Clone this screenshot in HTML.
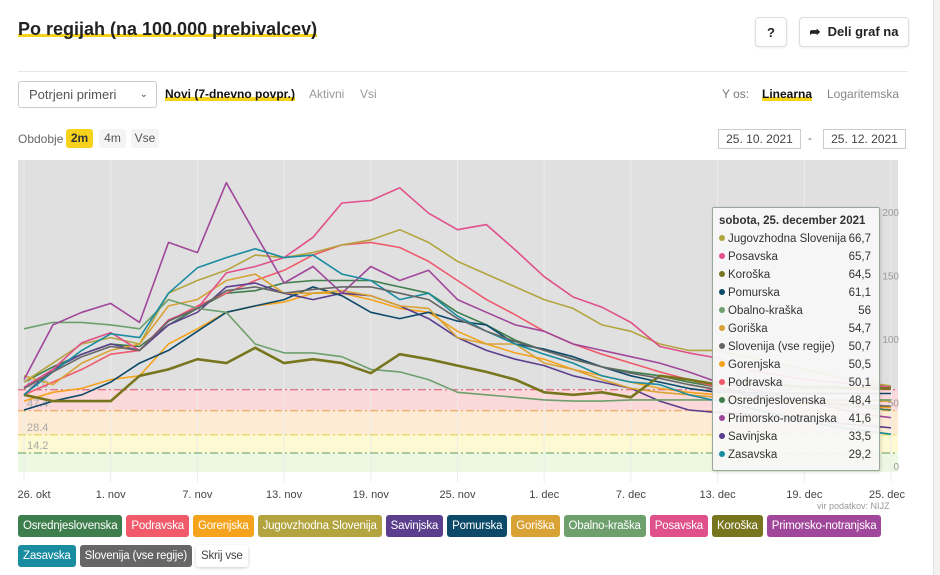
<!DOCTYPE html>
<html><head><meta charset="utf-8">
<style>
body{margin:0;width:940px;height:575px;background:#fff;font-family:"Liberation Sans",sans-serif;position:relative;overflow:hidden;color:#333}
.abs{position:absolute}
.title{left:18px;top:19px;font-size:18px;font-weight:bold;color:#222;background:linear-gradient(transparent 72%,#f7d21b 72%,#f7d21b 86%,transparent 86%)}
.btn{border:1px solid #ddd;border-radius:4px;background:#fff;font-size:13px;font-weight:bold;color:#222;display:flex;align-items:center;justify-content:center;box-shadow:0 1px 2px rgba(0,0,0,.08)}
.tab{font-size:12px;color:#999}
.lg{display:flex;gap:4px}
.lb{height:22px;line-height:22px;padding:0 5px;border-radius:3px;color:#fff;font-size:11.5px;white-space:nowrap;letter-spacing:-0.2px}
</style></head><body>
<div class="abs title">Po regijah (na 100.000 prebivalcev)</div>
<div class="abs btn" style="left:755px;top:17px;width:30px;height:28px">?</div>
<div class="abs btn" style="left:799px;top:17px;width:108px;height:28px">➦&nbsp;&nbsp;Deli graf na</div>
<div class="abs" style="left:18px;top:71px;width:890px;height:1px;background:#e6e6e6"></div>
<div class="abs" style="left:18px;top:81px;height:25px;border:1px solid #ccc;border-radius:3px;font-size:13px;color:#555;line-height:25px;padding-left:10px;width:127px">Potrjeni primeri<span style="position:absolute;right:8px;font-size:10px">⌄</span></div>
<div class="abs tab" style="left:165px;top:87px;color:#111;font-weight:bold;background:linear-gradient(transparent 70%,#f7d21b 70%)">Novi (7-dnevno povpr.)</div>
<div class="abs tab" style="left:309px;top:87px">Aktivni</div>
<div class="abs tab" style="left:360px;top:87px">Vsi</div>
<div class="abs tab" style="left:722px;top:87px;color:#777">Y os:</div>
<div class="abs tab" style="left:762px;top:87px;color:#111;font-weight:bold;background:linear-gradient(transparent 70%,#f7d21b 70%)">Linearna</div>
<div class="abs tab" style="left:827px;top:87px;color:#888">Logaritemska</div>
<div class="abs" style="left:18px;top:132px;font-size:12px;color:#666">Obdobje</div>
<div class="abs" style="left:66px;top:129px;width:27px;height:19px;background:#f7d21b;border-radius:3px;font-size:12px;font-weight:bold;text-align:center;line-height:19px">2m</div>
<div class="abs" style="left:99px;top:129px;width:27px;height:19px;background:#f4f4f4;border-radius:3px;font-size:12px;text-align:center;line-height:19px;color:#555">4m</div>
<div class="abs" style="left:131px;top:129px;width:28px;height:19px;background:#f4f4f4;border-radius:3px;font-size:12px;text-align:center;line-height:19px;color:#555">Vse</div>
<div class="abs" style="left:718px;top:129px;width:81px;height:18px;border:1px solid #ccc;font-size:12px;text-align:center;line-height:18px;color:#444">25. 10. 2021</div>
<div class="abs" style="left:808px;top:131px;font-size:12px;color:#666">-</div>
<div class="abs" style="left:823px;top:129px;width:81px;height:18px;border:1px solid #ccc;font-size:12px;text-align:center;line-height:18px;color:#444">25. 12. 2021</div>
<div class="abs" style="left:933px;top:0;width:7px;height:575px;background:#f3f3f3;border-left:1px solid #e4e4e4"></div>

<svg class="abs" style="left:0;top:0" width="930" height="510" id="chart"></svg>

<div class="abs" style="left:817px;top:501px;font-size:9px;color:#999">vir podatkov: NIJZ</div>
<div class="abs lg" style="left:18px;top:515px" id="lg1"></div>
<div class="abs lg" style="left:18px;top:545px" id="lg2"></div>

<div class="abs" style="left:712px;top:207px;width:166px;height:262px;background:rgba(247,247,247,0.93);border:1px solid #9aa89a;border-radius:2px;box-shadow:1px 1px 3px rgba(0,0,0,.15);font-size:11.5px;color:#333" id="tip">
<div style="position:absolute;left:6px;top:7px;font-weight:bold">sobota, 25. december 2021</div>
</div>

<script>
const categories = ["26. okt","1. nov","7. nov","13. nov","19. nov","25. nov","1. dec","7. dec","13. dec","19. dec","25. dec"];
const tickDays = [0,6,12,18,24,30,36,42,48,54,60];
const yTicks = [0,50,100,150,200];
const thresholds = [64.0,47.4,28.4,14.2];
const seriesNames = ["Osrednjeslovenska","Podravska","Gorenjska","Jugovzhodna Slovenija","Savinjska","Pomurska","Goriška","Obalno-kraška","Posavska","Koroška","Primorsko-notranjska","Zasavska","Slovenija (vse regije)"];
const seriesColors = ["#3e7d4c","#f05a6b","#f5a31c","#b3a43f","#5b3f8e","#0d4a6a","#d9a234","#6da06d","#e0508a","#77761e","#a0479b","#1a8ca0","#666666"];
const sOsr = [70,82,92,100,98,115,128,140,142,148,150,150,150,145,140,125,115,103,95,88,82,78,75,70,66,62,58,55,52,50,48];
const sPod = [60,70,80,92,95,118,130,140,150,158,170,178,180,176,165,150,135,123,110,100,92,85,78,72,66,60,57,55,52,51,50];
const sGor = [55,62,65,72,75,100,112,125,130,133,140,140,135,128,125,110,100,93,88,80,75,70,65,62,60,57,55,53,52,51,50];
const sJug = [70,85,100,105,100,140,150,158,170,168,172,178,182,190,180,165,155,145,135,128,115,110,100,95,95,90,85,80,75,70,67];
const sSav = [60,80,92,100,95,115,125,145,148,140,135,140,138,130,120,105,95,88,83,75,70,65,55,48,46,45,42,40,38,36,34];
const sPom = [48,55,60,70,85,95,110,125,130,135,145,138,125,120,125,118,115,100,96,90,82,75,70,65,62,62,61,61,61,61,61];
const sGorisk = [75,68,85,95,100,130,135,150,155,140,140,142,138,130,128,105,100,100,85,80,72,65,62,60,58,57,56,55,55,55,55];
const sObk = [112,117,117,115,112,135,128,125,100,93,93,90,80,78,72,62,60,58,56,55,55,56,56,56,56,56,56,56,56,56,56];
const sPos = [66,80,101,109,95,119,128,156,161,168,184,211,213,223,203,190,194,174,153,137,129,117,98,93,89,80,76,72,70,68,66];
const sKor = [60,55,55,55,75,80,88,85,97,85,88,85,77,92,88,83,78,72,62,60,62,58,75,72,68,70,68,66,66,65,65];
const sPri = [72,115,125,132,117,180,172,227,187,148,161,140,161,150,158,135,125,115,110,100,95,90,85,78,70,65,60,55,50,45,42];
const sZas = [60,78,95,108,105,140,160,168,175,168,170,155,150,135,140,122,110,100,92,85,75,70,68,60,55,50,45,40,35,32,29];
const sSlo = [65,78,90,98,95,118,128,142,145,140,143,145,145,140,135,120,110,102,95,88,82,77,73,68,64,60,57,55,53,52,51];
const tipNames = ["Jugovzhodna Slovenija","Posavska","Koroška","Pomurska","Obalno-kraška","Goriška","Slovenija (vse regije)","Gorenjska","Podravska","Osrednjeslovenska","Primorsko-notranjska","Savinjska","Zasavska"];
const tipValues = ["66,7","65,7","64,5","61,1","56","54,7","50,7","50,5","50,1","48,4","41,6","33,5","29,2"];

const allSeries = [sOsr,sPod,sGor,sJug,sSav,sPom,sGorisk,sObk,sPos,sKor,sPri,sZas,sSlo];
const NS="http://www.w3.org/2000/svg";
const svg=document.getElementById('chart');
const X0=18,X1=898,Y0=160,Y1=472;
const xOf=d=>24+d*(867/60);
const yOf=v=>471-v*1.27;
function mk(t,a){const e=document.createElementNS(NS,t);for(const k in a)e.setAttribute(k,a[k]);svg.appendChild(e);return e;}
let r=mk('rect',{x:X0,y:Y0,width:X1-X0,height:yOf(thresholds[0])-Y0,fill:'#e0e0e0'});


const bandFill=['#fbd9db','#fdebd4','#fdf9d3','#edf8e3'];
const lineCol=['#e0506a','#e8a23a','#d9cf3a','#5f9a5f'];
for(let i=0;i<4;i++){
  const top=yOf(thresholds[i]);const bot=i<3?yOf(thresholds[i+1]):Y1;
  const b=mk('rect',{x:X0,y:top,width:X1-X0,height:bot-top,fill:bandFill[i]});
  
  
}
tickDays.forEach((d,i)=>{
  const g=mk('line',{x1:xOf(d),x2:xOf(d),y1:Y0,y2:482,stroke:'#ececec','stroke-width':1});
  
  
  const t=mk('text',{x:xOf(d)+(i==0?10:i==10?-4:0),y:498,'font-size':11,fill:'#444','text-anchor':'middle','font-family':'Liberation Sans, sans-serif'});
  t.textContent=categories[i];
  
  
});
for(let i=0;i<4;i++){
  const l=mk('line',{x1:X0,x2:X1,y1:yOf(thresholds[i]),y2:yOf(thresholds[i]),stroke:lineCol[i],'stroke-width':1,'stroke-dasharray':'8,3,2,3'});
  
  
  const t=mk('text',{x:27,y:yOf(thresholds[i])+(i==0?-2:-4),'font-size':11,fill:'#a8a8a8','font-family':'Liberation Sans, sans-serif'});
  t.textContent=thresholds[i].toFixed(1);
  
  
}
allSeries.forEach((s,k)=>{
  const pts=s.map((v,i)=>xOf(i*2).toFixed(1)+','+yOf(v).toFixed(1)).join(' ');
  const p=mk('polyline',{points:pts,fill:'none',stroke:seriesColors[k],'stroke-width':k==9?2.6:1.6,'stroke-linejoin':'round'});
  
  
});
yTicks.forEach(v=>{
  const t=mk('text',{x:899,y:yOf(v)-1,'font-size':10,fill:'#999','text-anchor':'end','font-family':'Liberation Sans, sans-serif'});
  t.textContent=v;
  
  
});
seriesNames.forEach((n,k)=>{
  const b=document.createElement('div');
  b.className='lb';b.style.background=seriesColors[k];b.textContent=n;
  
  
  document.getElementById(k<11?'lg1':'lg2').appendChild(b);
});
const hide=document.createElement('div');
hide.className='lb';hide.style.cssText='background:#fff;color:#444;box-shadow:0 1px 3px rgba(0,0,0,.2)';hide.textContent='Skrij vse';


document.getElementById('lg2').appendChild(hide);
const tip=document.getElementById('tip');
tipNames.forEach((n,i)=>{
  const row=document.createElement('div');
  row.style.cssText='position:absolute;left:6px;right:6px;top:'+(25+i*18)+'px;height:16px';
  const c=seriesColors[seriesNames.indexOf(n)];
  row.innerHTML='<span style="display:inline-block;width:6px;height:6px;border-radius:3px;background:'+c+';margin-right:3px;vertical-align:1px"></span>'+n+'<span style="position:absolute;right:2px">'+tipValues[i]+'</span>';
  
  
  tip.appendChild(row);
});
</script>
</body></html>
